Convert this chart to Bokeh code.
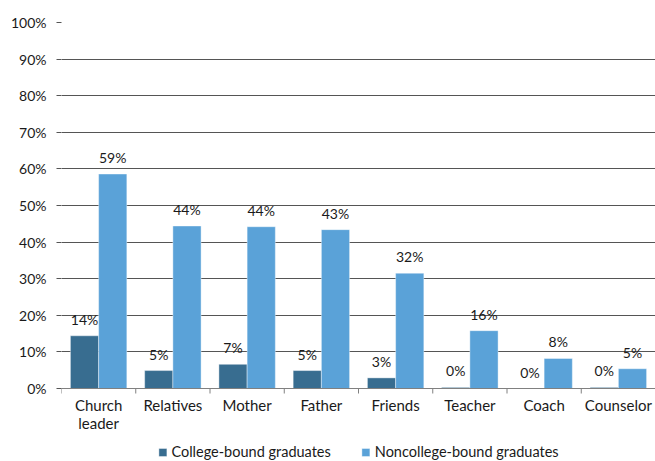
import numpy as np
from bokeh.plotting import figure
from bokeh.models import (ColumnDataSource, Range1d, FixedTicker, PrintfTickFormatter,
                          Legend, LegendItem, Span)
from bokeh.transform import dodge
from bokeh.core.properties import value
from bokeh.embed import file_html
from bokeh.resources import INLINE

categories = ["Church\nleader", "Relatives", "Mother", "Father", "Friends",
              "Teacher", "Coach", "Counselor"]
college = [14.4, 4.9, 6.6, 4.9, 2.9, 0.3, 0.0, 0.3]
noncollege = [58.6, 44.4, 44.2, 43.4, 31.5, 15.8, 8.2, 5.4]
series_names = ["College-bound graduates", "Noncollege-bound graduates"]
y_ticks = [0, 10, 20, 30, 40, 50, 60, 70, 80, 90, 100]

FONT = "Lato"
DARK = "#386d90"
LIGHT = "#5aa2d8"
GRID = "#555555"
AXIS = "#808080"

# layout in pixels: value area 366 px tall, 73 px below it for labels and legend
VAL_PX = 366
BELOW_PX = 73
Y_MIN = -BELOW_PX * 100.0 / VAL_PX
PX = 100.0 / VAL_PX  # data units per pixel

idx = np.arange(len(categories))
centers = [float(i) + 0.5 for i in idx]
bounds = [float(i) for i in range(len(categories) + 1)]

src = ColumnDataSource(dict(
    x=centers,
    cat=categories,
    college=college,
    noncollege=noncollege,
    clabel=[f"{v:.0f}%" for v in college],
    nlabel=[f"{v:.0f}%" for v in noncollege],
))

p = figure(frame_width=594, frame_height=VAL_PX + BELOW_PX,
           x_range=Range1d(0, len(categories)), y_range=Range1d(Y_MIN, 100),
           output_backend="svg", toolbar_location=None, x_axis_location=None,
           min_border_left=61, min_border_right=0, min_border_top=22,
           min_border_bottom=0)
p.outline_line_color = None
p.background_fill_color = "white"
p.border_fill_color = "white"

off = 0.19
bw = 0.38
r1 = p.vbar(x=dodge("x", -off, range=p.x_range), top="college", width=bw, bottom=0,
            source=src, fill_color=DARK, line_color="white", line_alpha=0.5, line_width=0.8)
r2 = p.vbar(x=dodge("x", off, range=p.x_range), top="noncollege", width=bw, bottom=0,
            source=src, fill_color=LIGHT, line_color="white", line_alpha=0.5, line_width=0.8)

for col, lab, d in (("college", "clabel", -off), ("noncollege", "nlabel", off)):
    p.text(x=dodge("x", d, range=p.x_range), y=col, text=lab, source=src,
           text_align="center", text_baseline="bottom", y_offset=-8,
           text_font=value(FONT), text_font_size="14px", text_color="#1a1a1a")

# category axis drawn at y = 0
p.add_layout(Span(location=0, dimension="width", line_color=AXIS, line_width=1))
tick_src = ColumnDataSource(dict(x=bounds, y0=[0.0] * len(bounds), y1=[-5 * PX] * len(bounds)))
p.segment(x0="x", y0="y0", x1="x", y1="y1", source=tick_src, line_color=AXIS, line_width=1)
p.text(x="x", y=0, text="cat", source=src, text_align="center", text_baseline="top",
       y_offset=7, text_font=value(FONT), text_font_size="15px", text_line_height=1.05,
       text_color="#1a1a1a")

# y axis
ya = p.yaxis[0]
ya.ticker = FixedTicker(ticks=y_ticks)
ya.formatter = PrintfTickFormatter(format="%d%%")
ya.axis_line_color = None
ya.major_tick_out = 5
ya.major_tick_in = 0
ya.major_tick_line_color = GRID
ya.minor_tick_line_color = None
ya.major_label_standoff = 10
ya.major_label_text_font = FONT
ya.major_label_text_font_size = "14px"
ya.major_label_text_color = "#1a1a1a"

p.xgrid.visible = False
p.ygrid.ticker = FixedTicker(ticks=y_ticks)
p.ygrid.grid_line_color = GRID
p.ygrid.grid_line_width = 1

legend = Legend(items=[LegendItem(label=series_names[0], renderers=[r1]),
                       LegendItem(label=series_names[1], renderers=[r2])],
                orientation="horizontal", location="bottom_center",
                glyph_width=10, glyph_height=10, label_standoff=4, spacing=30,
                padding=0, margin=1, border_line_color=None,
                background_fill_alpha=0,
                label_text_font=FONT, label_text_font_size="14.5px",
                label_text_color="#1a1a1a", label_height=16)
p.add_layout(legend, "center")

open("out.html", "w").write(file_html(p, INLINE))
